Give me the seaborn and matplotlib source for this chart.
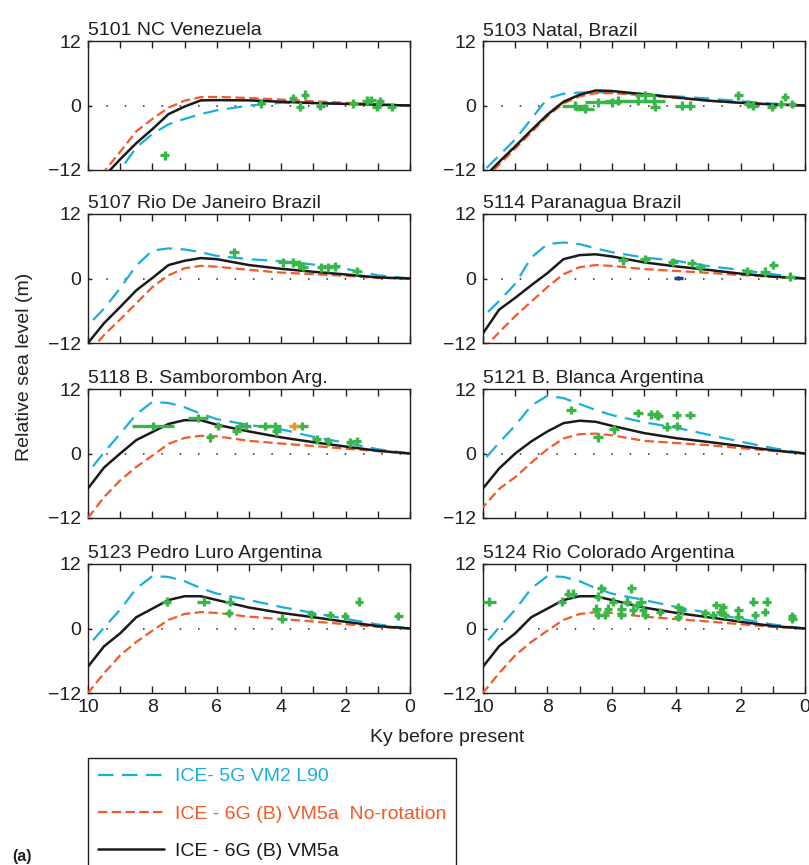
import numpy as np
import pandas as pd
import matplotlib
matplotlib.use("Agg")
import matplotlib.pyplot as plt
from matplotlib.lines import Line2D
import seaborn as sns

sns.set_style("ticks")
plt.rcParams['font.family'] = ['Liberation Sans', 'DejaVu Sans']

# ---------------- data ----------------
titles = ["5101 NC Venezuela", "5103 Natal, Brazil", "5107 Rio De Janeiro Brazil",
          "5114 Paranagua Brazil", "5118 B. Samborombon Arg.", "5121 B. Blanca Argentina",
          "5123 Pedro Luro Argentina", "5124 Rio Colorado Argentina"]

ky = [10, 9.5, 9, 8.5, 8, 7.5, 7, 6.5, 6, 5, 4, 3, 2, 1, 0]

# model curves: ICE-5G VM2 L90 (cyan), ICE-6G(B) VM5a no-rotation (orange), ICE-6G(B) VM5a (black)
ice5g_5101 = [-20, -16, -12, -7.8, -5.3, -3.5, -2.5, -1.6, -0.9, 0.0, 0.5, 0.45, 0.3, 0.15, 0]
norot_5101 = [-16.8, -12.3, -8.6, -4.8, -2.5, -0.4, 0.9, 1.55, 1.6, 1.4, 1.1, 0.8, 0.5, 0.25, 0]
ice6g_5101 = [-16.5, -13.2, -10.0, -7.0, -4.4, -1.6, -0.2, 0.95, 1.0, 0.95, 0.7, 0.45, 0.3, 0.15, 0]

ice5g_5103 = [-12.3, -9.3, -6.3, -2.5, 1.3, 2.2, 2.4, 2.5, 2.4, 2.1, 1.7, 1.3, 0.8, 0.35, 0]
norot_5103 = [-14.0, -11.0, -8.0, -5.0, -2.0, 0.4, 1.7, 2.3, 2.3, 1.9, 1.4, 0.9, 0.5, 0.2, 0]
ice6g_5103 = [-13.5, -10.5, -7.6, -4.6, -1.7, 0.7, 2.0, 2.8, 2.7, 2.1, 1.5, 0.9, 0.5, 0.2, 0]

ice5g_5107 = [-8.7, -5.6, -1.8, 2.4, 5.2, 5.6, 5.4, 4.9, 4.2, 3.6, 3.2, 2.6, 1.8, 0.6, 0]
norot_5107 = [-14.0, -10.5, -7.6, -4.6, -1.6, 0.6, 1.9, 2.35, 2.2, 1.6, 1.1, 0.8, 0.5, 0.1, 0]
ice6g_5107 = [-12.0, -8.3, -5.3, -2.2, 0.1, 2.5, 3.3, 3.8, 3.6, 2.5, 1.8, 1.25, 0.75, 0.2, 0]

ice5g_5114 = [-7.1, -4.2, -1.0, 3.9, 6.4, 6.7, 6.4, 5.6, 4.9, 3.9, 3.3, 2.3, 1.6, 0.8, 0]
norot_5114 = [-13.2, -10.0, -7.0, -4.3, -1.6, 0.8, 2.1, 2.5, 2.35, 1.75, 1.4, 1.05, 0.65, 0.3, 0]
ice6g_5114 = [-10.2, -5.8, -3.6, -1.25, 1.0, 3.6, 4.35, 4.5, 4.1, 3.0, 2.25, 1.6, 0.9, 0.35, 0]

ice5g_5118 = [-3.5, 0.2, 3.7, 7.3, 9.6, 9.4, 8.6, 7.4, 6.4, 5.3, 4.5, 3.1, 2.0, 0.8, 0]
norot_5118 = [-12.0, -8.1, -5.0, -2.5, -0.4, 1.8, 2.9, 3.3, 3.2, 2.35, 1.85, 1.4, 0.9, 0.45, 0]
ice6g_5118 = [-6.5, -2.6, 0.0, 2.5, 4.0, 5.5, 6.2, 6.2, 5.35, 4.1, 3.0, 2.1, 1.3, 0.5, 0]

ice5g_5121 = [-1.4, 2.0, 5.2, 8.9, 10.75, 10.3, 9.2, 8.1, 7.15, 5.8, 4.8, 3.5, 2.2, 1.0, 0]
norot_5121 = [-10.0, -6.6, -4.4, -1.7, 0.8, 2.8, 3.6, 3.7, 3.4, 2.35, 1.95, 1.55, 1.0, 0.5, 0]
ice6g_5121 = [-6.5, -2.8, 0.0, 2.25, 4.1, 5.65, 6.1, 5.9, 5.15, 3.8, 2.85, 2.15, 1.4, 0.6, 0]

ice5g_5123 = [-3.3, 0.2, 3.5, 7.45, 9.75, 9.6, 8.8, 7.5, 6.5, 5.3, 4.0, 2.9, 1.8, 0.75, 0]
norot_5123 = [-12.0, -8.3, -5.0, -2.5, -0.4, 1.6, 2.7, 3.05, 2.9, 2.2, 1.75, 1.3, 0.8, 0.3, 0]
ice6g_5123 = [-7.1, -3.3, -0.9, 2.1, 3.7, 5.3, 6.0, 6.0, 5.3, 3.9, 2.9, 2.1, 1.25, 0.45, 0]

ice5g_5124 = [-3.3, 0.2, 3.5, 7.45, 9.75, 9.6, 8.8, 7.5, 6.5, 5.3, 4.0, 2.9, 1.8, 0.75, 0]
norot_5124 = [-12.0, -8.3, -5.0, -2.5, -0.4, 1.6, 2.7, 3.05, 2.9, 2.2, 1.75, 1.3, 0.8, 0.3, 0]
ice6g_5124 = [-7.1, -3.3, -0.9, 2.1, 3.7, 5.3, 6.0, 6.0, 5.3, 3.9, 2.9, 2.1, 1.25, 0.45, 0]

# observed sea-level indicators (age ky, height m, age error ky)
obs_x_5101 = [7.62, 4.63, 3.63, 3.42, 3.26, 2.78, 1.76, 1.35, 1.2, 1.04, 0.93, 0.57]
obs_y_5101 = [-9.3, 0.4, 1.4, -0.2, 2.0, 0.0, 0.4, 0.9, 1.0, -0.2, 0.75, -0.3]
obs_e_5101 = [0.13] * 12

obs_x_5103 = [7.15, 6.84, 6.42, 6.0, 5.8, 5.18, 4.97, 4.7, 4.66, 3.83, 3.57, 2.07, 1.76, 1.6, 1.04, 0.73, 0.62, 0.41]
obs_y_5103 = [0.0, -0.6, 0.6, 0.6, 0.9, 0.9, 1.9, 0.9, -0.3, 0.0, 0.0, 1.9, 0.3, 0.0, -0.3, 0.3, 1.55, 0.3]
obs_e_5103 = [0.4, 0.3, 0.4, 0.3, 0.4, 0.4, 0.3, 0.35, 0.15, 0.2, 0.15, 0.13, 0.13, 0.13, 0.13, 0.13, 0.13, 0.13]

obs_x_5107 = [5.46, 3.94, 3.63, 3.44, 3.32, 2.75, 2.54, 2.33, 1.66]
obs_y_5107 = [4.85, 3.0, 3.0, 2.65, 2.2, 2.05, 2.05, 2.25, 1.4]
obs_e_5107 = [0.15] * 9

obs_x_5114 = [5.65, 4.97, 4.09, 3.52, 3.26, 1.81, 1.24, 0.98, 0.47]
obs_y_5114 = [3.4, 3.6, 3.1, 2.85, 2.05, 1.4, 1.25, 2.5, 0.37]
obs_e_5114 = [0.15] * 9
blue_x_5114 = [3.93]
blue_y_5114 = [0.1]

obs_x_5118 = [7.98, 6.58, 6.22, 5.96, 5.39, 5.28, 5.08, 4.51, 4.2, 4.15, 3.36, 2.9, 2.54, 1.87, 1.66]
obs_y_5118 = [5.15, 6.6, 3.0, 5.15, 4.2, 5.15, 5.15, 5.15, 5.15, 4.1, 5.15, 2.65, 2.25, 2.05, 2.25]
obs_e_5118 = [0.65, 0.3, 0.13, 0.13, 0.13, 0.15, 0.15, 0.2, 0.2, 0.13, 0.2, 0.15, 0.13, 0.13, 0.15]
orange_x_5118 = [3.6]
orange_y_5118 = [5.15]

obs_x_5121 = [7.26, 6.42, 5.93, 5.18, 4.77, 4.61, 4.56, 4.3, 3.99, 3.99, 3.57]
obs_y_5121 = [8.1, 3.0, 4.5, 7.5, 7.3, 7.3, 7.0, 5.0, 5.15, 7.15, 7.15]
obs_e_5121 = [0.15] * 11

obs_x_5123 = [7.56, 6.4, 5.6, 5.62, 3.96, 3.06, 2.49, 2.02, 1.58, 0.36]
obs_y_5123 = [5.0, 5.0, 5.0, 2.9, 1.85, 2.65, 2.5, 2.35, 5.0, 2.35]
obs_e_5123 = [0.15, 0.2, 0.13, 0.13, 0.13, 0.13, 0.13, 0.13, 0.13, 0.13]

obs_x_5124 = [9.8, 7.56, 7.36, 7.2, 6.32, 6.42, 6.48, 6.42, 6.22, 6.11, 5.96, 5.7, 5.7, 5.54,
              5.39, 5.34, 5.23, 5.08, 5.03, 4.97, 4.51, 3.94, 3.94, 3.83, 3.11, 2.85, 2.75,
              2.64, 2.54, 2.49, 2.07, 2.07, 1.6, 1.55, 1.24, 1.19, 0.41, 0.39]
obs_y_5124 = [5.0, 5.0, 6.5, 6.5, 7.45, 5.9, 3.7, 2.5, 2.5, 3.7, 5.0, 3.7, 2.5, 5.0,
              7.45, 3.4, 4.35, 5.0, 3.4, 2.5, 3.1, 4.0, 2.2, 3.4, 2.8, 2.5, 4.35,
              3.1, 4.0, 2.5, 3.4, 2.2, 5.0, 2.5, 3.1, 5.0, 2.3, 1.85]
obs_e_5124 = [0.2] + [0.13] * 37

model_5g = [ice5g_5101, ice5g_5103, ice5g_5107, ice5g_5114, ice5g_5118, ice5g_5121, ice5g_5123, ice5g_5124]
model_nr = [norot_5101, norot_5103, norot_5107, norot_5114, norot_5118, norot_5121, norot_5123, norot_5124]
model_6g = [ice6g_5101, ice6g_5103, ice6g_5107, ice6g_5114, ice6g_5118, ice6g_5121, ice6g_5123, ice6g_5124]
obs_x = [obs_x_5101, obs_x_5103, obs_x_5107, obs_x_5114, obs_x_5118, obs_x_5121, obs_x_5123, obs_x_5124]
obs_y = [obs_y_5101, obs_y_5103, obs_y_5107, obs_y_5114, obs_y_5118, obs_y_5121, obs_y_5123, obs_y_5124]
obs_e = [obs_e_5101, obs_e_5103, obs_e_5107, obs_e_5114, obs_e_5118, obs_e_5121, obs_e_5123, obs_e_5124]

legend_labels = ["ICE- 5G VM2 L90", "ICE - 6G (B) VM5a  No-rotation", "ICE - 6G (B) VM5a"]

# ---------------- style ----------------
C_CYAN = "#1AAEDB"
C_ORANGE = "#F15A29"
C_BLACK = "#1A1A1A"
C_GREEN = "#3AB54A"
C_TEXT = "#231F20"
LS_5G = (0, (7, 3.8))
LS_NR = (0, (4.2, 2.0))
LW = 1.6
FS = 14

W, H = 809, 865
fig = plt.figure(figsize=(W / 100, H / 100), dpi=100)

col_x = [88, 483]
row_top = [41, 214, 389, 564]
ax_w, ax_h = 322, 129

for i in range(8):
    r, c = divmod(i, 2)
    left = col_x[c] / W
    bottom = 1 - (row_top[r] + ax_h) / H
    ax = fig.add_axes([left, bottom, ax_w / W, ax_h / H])

    ax.axhline(0, color=C_TEXT, lw=1.1, ls=(0, (1, 11)), zorder=1)
    df = pd.DataFrame({"ky": ky, "ice5g": model_5g[i], "norot": model_nr[i], "ice6g": model_6g[i]})
    sns.lineplot(data=df, x="ky", y="ice5g", ax=ax, color=C_CYAN, lw=LW, linestyle=LS_5G, zorder=3)
    sns.lineplot(data=df, x="ky", y="norot", ax=ax, color=C_ORANGE, lw=LW, linestyle=LS_NR, zorder=3)
    sns.lineplot(data=df, x="ky", y="ice6g", ax=ax, color=C_BLACK, lw=LW + 0.2, zorder=4)

    ax.errorbar(obs_x[i], obs_y[i], xerr=obs_e[i], yerr=0.8, fmt="none",
                ecolor=C_GREEN, elinewidth=2.4, capsize=0, zorder=5)
    if i == 3:
        ax.errorbar(blue_x_5114, blue_y_5114, xerr=0.15, yerr=0.4, fmt="none",
                    ecolor="#1F3C99", elinewidth=2.4, capsize=0, zorder=5)
    if i == 4:
        ax.errorbar(orange_x_5118, orange_y_5118, xerr=0.15, yerr=0.8, fmt="none",
                    ecolor="#F7941D", elinewidth=2.4, capsize=0, zorder=5)

    ax.set_xlim(10, 0)
    ax.set_ylim(-12, 12)
    ax.set_xticks(np.arange(0, 11, 1))
    if r == 3:
        ax.set_xticklabels([str(v) if v % 2 == 0 else "" for v in range(0, 11)])
    else:
        ax.set_xticklabels([])
    ax.set_yticks([-12, 0, 12])
    ax.set_yticklabels(["\u221212", "0", "12"])
    ax.tick_params(axis="x", direction="in", top=True, bottom=True, length=5, width=1.0,
                   labelsize=FS, pad=4.5, colors=C_TEXT)
    ax.tick_params(axis="y", direction="in", left=True, right=False, length=3, width=1.0,
                   labelsize=FS, pad=5, colors=C_TEXT)
    for sp in ax.spines.values():
        sp.set_visible(True)
        sp.set_linewidth(1.0)
        sp.set_color(C_TEXT)
    ax.set_xlabel("")
    ax.set_ylabel("")
    ax.set_title(titles[i], loc="left", pad=4, fontsize=FS, color=C_TEXT)

fig.text(25 / W, 1 - 367 / H, "Relative sea level (m)", rotation=90, ha="center", va="center",
         fontsize=FS, color=C_TEXT)
fig.text(447 / W, 1 - 737 / H, "Ky before present", ha="center", va="center",
         fontsize=FS, color=C_TEXT)

handles = [Line2D([], [], color=C_CYAN, lw=LW, ls=LS_5G),
           Line2D([], [], color=C_ORANGE, lw=LW, ls=LS_NR),
           Line2D([], [], color=C_BLACK, lw=LW + 0.2)]
leg = fig.legend(handles, legend_labels, loc="upper left",
                 bbox_to_anchor=(88 / W, 1 - 758 / H), bbox_transform=fig.transFigure,
                 frameon=True, fancybox=False, shadow=False, fontsize=FS,
                 handlelength=3.4, handletextpad=0.55, labelspacing=1.02,
                 borderpad=0.5, borderaxespad=0.0, labelcolor="linecolor")
leg.get_frame().set_edgecolor(C_TEXT)
leg.get_frame().set_linewidth(1.0)
leg.get_frame().set_alpha(1)

fig.text(12 / W, 1 - 857 / H, "(a)", fontsize=11.5, fontweight="bold", ha="left", va="center", color=C_TEXT)

fig.savefig("out.png", dpi=100)
